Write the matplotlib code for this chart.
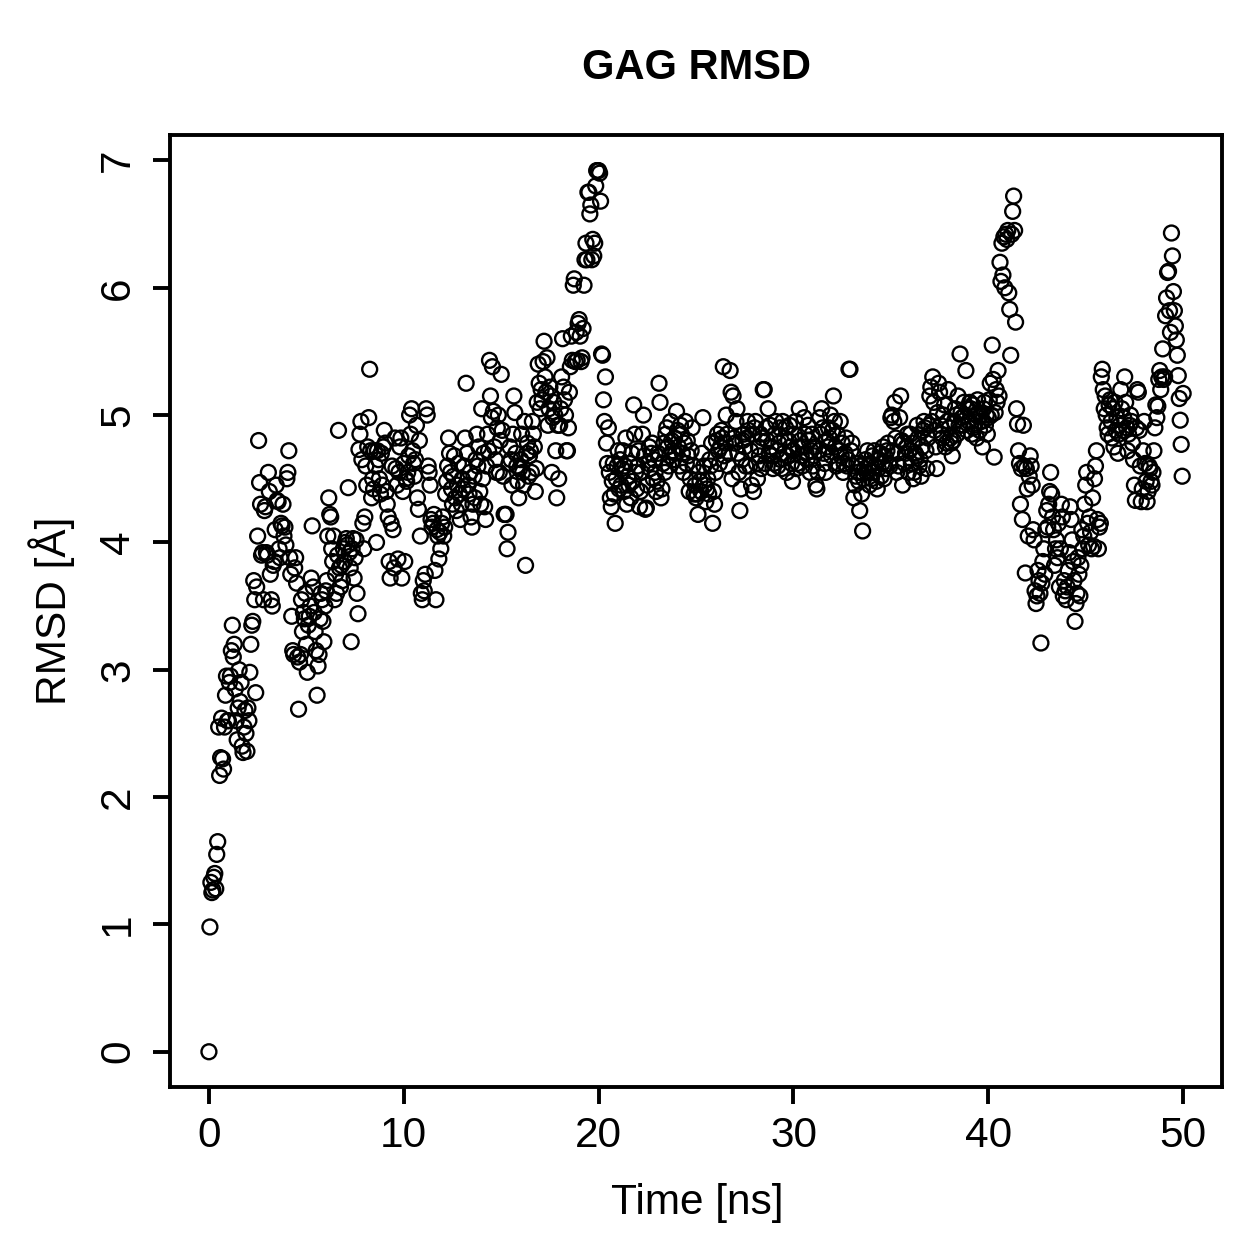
import numpy as np
import matplotlib.pyplot as plt

plt.rcParams['font.family'] = ['Liberation Sans', 'DejaVu Sans']

# RMSD values, one row per ns (20 frames per ns)
rmsd = [
    0.00, 0.98, 1.33, 1.25, 1.27, 1.37, 1.40, 1.28, 1.55, 1.65, 2.55, 2.17, 2.31, 2.62, 2.30, 2.22, 2.55, 2.80, 2.95, 2.60,
    2.60, 2.90, 2.95, 3.15, 3.35, 3.10, 3.20, 2.85, 2.60, 2.45, 2.70, 3.00, 2.75, 2.90, 2.40, 2.35, 2.55, 2.68, 2.50, 2.36,
    2.70, 2.60, 2.98, 3.20, 3.35, 3.38, 3.70, 3.55, 2.82, 3.65, 4.05, 4.80, 4.47, 4.30, 3.90, 3.92, 3.55, 4.25, 4.28, 3.92,
    3.90, 4.55, 4.40, 3.75, 3.55, 3.50, 3.82, 3.85, 4.10, 4.45, 4.33, 4.32, 3.95, 3.88, 4.15, 4.13, 4.30, 4.05, 4.12, 3.98,
    4.50, 4.55, 4.72, 3.88, 3.75, 3.42, 3.15, 3.12, 3.80, 3.88, 3.68, 3.10, 2.69, 3.06, 3.12, 3.55, 3.30, 3.45, 3.40, 3.60,
    3.20, 2.98, 3.35, 3.42, 3.50, 3.72, 4.13, 3.65, 3.45, 3.30, 3.15, 2.80, 3.03, 3.12, 3.40, 3.60, 3.55, 3.38, 3.22, 3.50,
    3.62, 3.70, 4.05, 4.35, 4.22, 4.20, 3.95, 3.85, 4.05, 3.55, 3.75, 3.60, 3.90, 4.88, 3.80, 3.65, 3.82, 3.70, 3.95, 3.85,
    4.00, 4.03, 3.98, 4.43, 3.92, 3.80, 3.22, 3.95, 4.03, 3.72, 3.88, 4.02, 3.60, 3.44, 4.73, 4.85, 4.95, 4.65, 4.15, 3.95,
    4.20, 4.60, 4.45, 4.75, 4.98, 5.36, 4.72, 4.35, 4.50, 4.42, 4.72, 4.60, 4.00, 4.72, 4.65, 4.50, 4.38, 4.70, 4.45, 4.75,
    4.88, 4.78, 4.40, 4.30, 4.20, 3.85, 3.72, 4.15, 4.60, 4.10, 3.80, 4.82, 4.58, 4.45, 3.87, 4.55, 4.75, 4.82, 3.72, 4.40,
    4.62, 3.85, 4.50, 4.48, 4.55, 4.68, 5.00, 4.85, 5.05, 4.72, 4.62, 4.52, 4.65, 4.92, 4.35, 4.26, 4.80, 4.05, 3.60, 3.55,
    3.70, 3.62, 3.75, 5.05, 5.00, 4.60, 4.55, 4.45, 4.18, 4.12, 4.15, 4.22, 3.78, 3.55, 4.10, 4.05, 3.87, 4.08, 3.95, 4.15,
    4.20, 4.05, 4.12, 4.38, 4.48, 4.60, 4.82, 4.70, 4.55, 4.42, 4.30, 4.52, 4.68, 4.35, 4.25, 4.45, 4.62, 4.38, 4.18, 4.30,
    4.50, 4.42, 4.60, 4.82, 5.25, 4.70, 4.45, 4.38, 4.55, 4.20, 4.12, 4.30, 4.52, 4.35, 4.65, 4.85, 4.60, 4.75, 4.40, 4.30,
    5.05, 4.50, 4.70, 4.28, 4.18, 4.60, 4.85, 4.72, 5.43, 5.15, 4.98, 5.38, 5.03, 4.75, 4.65, 4.55, 4.90, 5.00, 4.55, 4.80,
    5.32, 4.88, 4.52, 4.22, 4.22, 4.22, 3.95, 4.08, 4.62, 4.75, 4.65, 4.45, 4.85, 5.15, 5.02, 4.70, 4.60, 4.48, 4.35, 4.58,
    4.65, 4.85, 4.55, 4.45, 4.95, 3.82, 4.70, 4.78, 4.52, 4.68, 4.72, 4.55, 4.95, 4.85, 4.75, 4.40, 4.58, 5.10, 5.40, 5.25,
    5.05, 5.20, 5.12, 5.42, 5.58, 5.30, 5.18, 5.45, 4.92, 5.05, 5.22, 5.15, 4.55, 4.98, 5.10, 5.00, 4.72, 4.35, 4.92, 4.50,
    4.92, 5.05, 5.30, 5.60, 5.22, 5.12, 5.00, 4.72, 4.72, 4.90, 5.18, 5.38, 5.62, 5.43, 6.02, 6.07, 5.42, 5.65, 5.43, 5.72,
    5.75, 5.62, 5.42, 5.45, 5.68, 6.02, 6.22, 6.35, 6.22, 6.75, 6.75, 6.58, 6.65, 6.22, 6.38, 6.25, 6.35, 6.80, 6.92, 6.92,
    6.92, 6.90, 6.68, 5.48, 5.47, 5.12, 4.95, 5.30, 4.78, 4.62, 4.90, 4.55, 4.35, 4.28, 4.48, 4.62, 4.38, 4.15, 4.50, 4.60,
    4.72, 4.42, 4.65, 4.45, 4.58, 4.72, 4.40, 4.60, 4.82, 4.30, 4.52, 4.45, 4.62, 4.35, 4.70, 4.48, 5.08, 4.85, 4.55, 4.42,
    4.60, 4.72, 4.28, 4.40, 4.55, 4.85, 5.00, 4.68, 4.26, 4.27, 4.45, 4.62, 4.75, 4.58, 4.70, 4.78, 4.50, 4.65, 4.55, 4.40,
    4.48, 4.70, 5.25, 5.10, 4.35, 4.42, 4.62, 4.78, 4.55, 4.85, 4.90, 4.75, 4.60, 4.68, 4.95, 4.80, 4.72, 4.65, 4.82, 4.70,
    5.03, 4.88, 4.75, 4.60, 4.92, 4.85, 4.70, 4.55, 4.78, 4.95, 4.62, 4.80, 4.68, 4.40, 4.50, 4.72, 4.90, 4.60, 4.38, 4.45,
    4.35, 4.38, 4.22, 4.55, 4.48, 4.40, 4.70, 4.98, 4.60, 4.45, 4.32, 4.42, 4.50, 4.38, 4.65, 4.60, 4.78, 4.15, 4.40, 4.30,
    4.55, 4.80, 4.85, 4.72, 4.62, 4.75, 4.88, 4.82, 5.38, 4.68, 4.78, 5.00, 4.85, 4.60, 4.70, 5.35, 5.18, 4.50, 5.15, 4.82,
    4.78, 4.95, 5.05, 4.70, 4.55, 4.25, 4.42, 4.65, 4.80, 4.85, 4.75, 4.60, 4.82, 4.95, 4.88, 4.60, 4.72, 4.45, 4.85, 4.40,
    4.90, 4.95, 4.62, 4.50, 4.75, 4.68, 4.85, 4.58, 4.82, 5.20, 5.20, 4.62, 4.90, 4.80, 5.05, 4.70, 4.92, 4.75, 4.68, 4.58,
    4.62, 4.85, 4.95, 4.72, 4.60, 4.78, 4.90, 4.65, 4.58, 4.95, 4.70, 4.82, 4.90, 4.55, 4.68, 4.80, 4.92, 4.75, 4.62, 4.48,
    4.72, 4.85, 4.95, 4.58, 4.62, 4.75, 5.05, 4.80, 4.68, 4.60, 4.75, 4.98, 4.85, 4.70, 4.65, 4.92, 4.80, 4.55, 4.72, 4.85,
    4.60, 4.68, 4.75, 4.45, 4.42, 4.55, 4.72, 4.98, 4.85, 5.05, 4.90, 4.70, 4.62, 4.55, 4.80, 4.75, 4.90, 4.82, 5.00, 4.68,
    4.88, 5.15, 4.95, 4.75, 4.60, 4.85, 4.62, 4.72, 4.95, 4.68, 4.78, 4.55, 4.62, 4.70, 4.82, 4.60, 4.65, 5.36, 5.36, 4.72,
    4.78, 4.60, 4.35, 4.45, 4.52, 4.62, 4.55, 4.48, 4.25, 4.60, 4.38, 4.09, 4.50, 4.58, 4.65, 4.55, 4.72, 4.60, 4.45, 4.62,
    4.50, 4.68, 4.55, 4.72, 4.60, 4.48, 4.42, 4.58, 4.65, 4.70, 4.52, 4.62, 4.75, 4.50, 4.68, 4.58, 4.72, 4.78, 4.62, 4.60,
    4.98, 5.00, 4.72, 4.95, 5.10, 4.82, 4.55, 4.70, 4.60, 4.98, 5.15, 4.80, 4.45, 4.78, 4.62, 4.70, 4.75, 4.85, 4.55, 4.72,
    4.85, 4.62, 4.78, 4.50, 4.55, 4.70, 4.68, 4.92, 4.82, 4.60, 4.65, 4.52, 4.75, 4.88, 4.95, 4.90, 4.72, 4.58, 4.82, 4.92,
    5.15, 5.22, 4.95, 5.30, 5.10, 4.88, 4.75, 4.58, 5.02, 5.25, 5.18, 4.92, 4.85, 4.82, 5.00, 5.08, 4.75, 4.78, 4.95, 5.20,
    4.90, 4.82, 4.78, 4.68, 4.80, 4.95, 5.05, 5.00, 4.85, 5.15, 4.92, 5.48, 5.02, 4.98, 4.92, 5.10, 5.00, 5.35, 4.88, 5.05,
    4.95, 5.10, 5.05, 4.85, 5.08, 4.90, 4.92, 5.00, 4.82, 5.12, 5.02, 4.88, 5.00, 4.95, 4.75, 5.05, 5.10, 4.92, 5.00, 4.85,
    4.98, 5.12, 5.25, 5.00, 5.55, 5.28, 4.67, 5.02, 5.20, 5.10, 5.35, 5.15, 6.20, 6.05, 6.35, 6.10, 6.40, 6.00, 6.42, 6.38,
    6.45, 5.96, 5.83, 5.47, 6.42, 6.60, 6.72, 6.45, 5.73, 5.05, 4.93, 4.72, 4.62, 4.30, 4.58, 4.18, 4.92, 4.60, 3.76, 4.58,
    4.42, 4.05, 4.52, 4.68, 4.60, 4.45, 4.10, 4.02, 3.62, 3.52, 3.58, 3.78, 3.70, 3.60, 3.21, 3.68, 3.85, 3.95, 3.75, 4.10,
    4.25, 4.12, 4.30, 4.40, 4.55, 4.38, 4.20, 4.10, 3.82, 3.95, 4.02, 3.88, 4.15, 3.65, 3.95, 4.30, 4.20, 3.58, 3.70, 3.62,
    3.55, 3.65, 3.78, 3.92, 4.28, 4.18, 4.02, 3.85, 3.70, 3.38, 3.52, 3.60, 3.88, 3.75, 3.58, 3.82, 4.10, 3.95, 4.05, 4.30,
    4.45, 4.55, 4.15, 3.98, 4.20, 4.08, 3.95, 4.35, 3.97, 4.50, 4.60, 4.72, 4.18, 3.95, 4.12, 4.15, 5.30, 5.36, 5.20, 5.05,
    5.15, 5.00, 4.90, 4.85, 5.08, 5.12, 4.95, 4.82, 5.05, 4.75, 5.10, 4.88, 4.98, 4.70, 4.85, 4.92, 5.20, 5.05, 4.88, 4.98,
    5.30, 5.10, 4.90, 4.72, 4.85, 4.92, 5.00, 4.95, 4.78, 4.65, 4.45, 4.33, 4.90, 5.20, 5.18, 4.88, 4.60, 4.32, 4.42, 4.72,
    4.95, 4.62, 4.48, 4.32, 4.40, 4.60, 4.58, 4.48, 4.45, 4.55, 4.72, 4.90, 5.08, 4.98, 5.07, 5.28, 5.35, 5.20, 5.30, 5.52,
    5.28, 5.30, 5.78, 5.92, 6.12, 6.13, 5.82, 5.65, 6.43, 6.25, 5.97, 5.82, 5.70, 5.59, 5.47, 5.31, 5.13, 4.96, 4.77, 4.52,
    5.17,
]
time = np.linspace(0, 50, len(rmsd))  # frames every 0.05 ns

xticks = [0, 10, 20, 30, 40, 50]
yticks = [0, 1, 2, 3, 4, 5, 6, 7]

fig = plt.figure(figsize=(12.59, 12.59), dpi=100)
ax = fig.add_axes([0.135, 0.1366, 0.8357, 0.7562])

ax.scatter(time, rmsd, s=115, facecolors='none', edgecolors='black', linewidths=1.7)

ax.set_xlim(-2, 52)
ax.set_ylim(-0.277, 7.2)
ax.set_xticks(xticks)
ax.set_yticks(yticks)
ax.tick_params(direction='out', length=12, width=2.8, labelsize=30.5)
ax.tick_params(axis='x', pad=9)
ax.tick_params(axis='y', pad=11)
plt.setp(ax.get_yticklabels(), rotation=90, va='center')
for s in ax.spines.values():
    s.set_linewidth(2.8)

fig.text(0.5536, 0.946, 'GAG RMSD', ha='center', va='center', fontsize=30, fontweight='bold')
fig.text(0.5536, 0.0445, 'Time [ns]', ha='center', va='center', fontsize=30.5)
fig.text(0.0413, 0.5146, 'RMSD [Å]', ha='center', va='center', rotation=90, fontsize=30.5)

fig.savefig('out.png', dpi=100)
